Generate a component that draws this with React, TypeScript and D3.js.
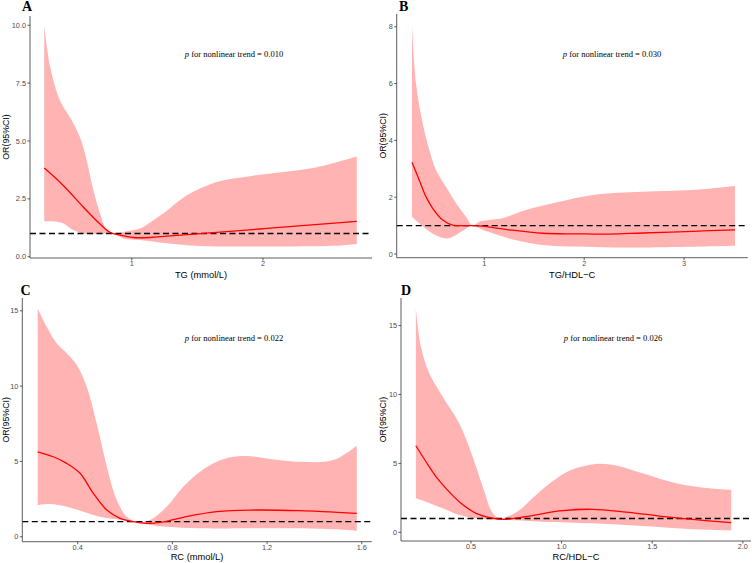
import React from "react";
import * as d3 from "d3";

type P = [number, number];

// Panel A: TG
const tgEst: P[] = [[0.334,3.83],[0.479,3.08],[0.631,2.15],[0.759,1.41],[0.835,1.05],[0.911,0.93],[1.01,0.83],[1.14,0.83],[1.27,0.89],[1.52,1.0],[2.03,1.22],[2.714,1.53]];
const tgUpper: P[] = [[0.334,10.0],[0.38,8.17],[0.454,6.74],[0.53,6.02],[0.606,5.16],[0.657,4.16],[0.708,2.87],[0.759,1.87],[0.81,1.15],[0.86,1.0],[0.96,1.1],[1.063,1.22],[1.165,1.58],[1.27,2.0],[1.42,2.65],[1.647,3.23],[1.9,3.48],[2.155,3.66],[2.41,3.87],[2.714,4.33]];
const tgLower: P[] = [[0.334,1.53],[0.4,1.53],[0.479,1.44],[0.555,1.15],[0.631,1.0],[0.759,0.98],[0.86,1.0],[0.936,0.79],[1.063,0.72],[1.27,0.58],[1.52,0.46],[2.03,0.44],[2.535,0.47],[2.714,0.55]];

// Panel B: TG/HDL-C
const tghEst: P[] = [[0.276,3.23],[0.349,2.6],[0.416,2.02],[0.483,1.61],[0.583,1.2],[0.683,1.02],[0.85,1.0],[0.983,0.98],[1.25,0.85],[1.585,0.73],[1.92,0.71],[2.25,0.70],[2.585,0.74],[3.086,0.8],[3.51,0.85]];
const tghUpper: P[] = [[0.276,8.06],[0.316,6.0],[0.383,4.6],[0.45,3.66],[0.516,2.96],[0.616,2.37],[0.717,1.79],[0.817,1.31],[0.884,1.0],[0.95,1.14],[1.05,1.2],[1.183,1.26],[1.417,1.55],[1.75,1.84],[2.085,2.08],[2.585,2.19],[3.086,2.25],[3.51,2.39]];
const tghLower: P[] = [[0.276,1.31],[0.349,1.08],[0.45,0.79],[0.55,0.61],[0.633,0.55],[0.717,0.67],[0.8,0.85],[0.884,1.0],[0.983,0.85],[1.083,0.73],[1.25,0.55],[1.585,0.32],[2.085,0.25],[2.585,0.23],[3.51,0.29]];

// Panel C: RC
const rcEst: P[] = [[0.231,5.64],[0.297,5.31],[0.354,4.87],[0.41,4.21],[0.466,2.88],[0.523,1.77],[0.579,1.22],[0.635,1.0],[0.692,0.89],[0.748,0.95],[0.846,1.29],[0.987,1.66],[1.128,1.77],[1.339,1.73],[1.579,1.55]];
const rcUpper: P[] = [[0.231,15.16],[0.269,13.94],[0.311,12.84],[0.354,12.18],[0.396,11.4],[0.438,9.96],[0.48,7.53],[0.523,4.65],[0.565,2.44],[0.607,1.33],[0.65,1.0],[0.705,1.11],[0.776,1.99],[0.846,3.32],[0.917,4.32],[0.987,4.98],[1.057,5.31],[1.128,5.35],[1.198,5.2],[1.339,4.98],[1.48,5.09],[1.579,6.04]];
const rcLower: P[] = [[0.231,2.1],[0.283,2.17],[0.354,1.99],[0.424,1.66],[0.494,1.33],[0.565,1.16],[0.635,1.0],[0.705,0.78],[0.776,0.66],[0.917,0.56],[1.198,0.56],[1.48,0.5],[1.579,0.4]];

// Panel D: RC/HDL-C
const rchEst: P[] = [[0.196,6.28],[0.252,5.12],[0.307,4.04],[0.362,3.19],[0.435,2.22],[0.528,1.38],[0.62,1.02],[0.675,0.94],[0.8,1.13],[0.987,1.55],[1.17,1.67],[1.355,1.47],[1.539,1.18],[1.723,0.94],[1.936,0.7]];
const rchUpper: P[] = [[0.196,16.25],[0.224,13.47],[0.27,11.54],[0.344,9.84],[0.435,7.91],[0.509,5.49],[0.565,3.31],[0.62,1.38],[0.656,1.02],[0.75,1.45],[0.85,2.6],[0.95,3.7],[1.05,4.5],[1.19,4.96],[1.3,4.85],[1.447,4.28],[1.631,3.56],[1.815,3.19],[1.936,3.07]];
const rchLower: P[] = [[0.196,2.47],[0.252,2.22],[0.344,1.74],[0.435,1.26],[0.528,1.02],[0.62,0.94],[0.711,0.89],[0.896,0.77],[1.17,0.65],[1.447,0.46],[1.723,0.22],[1.936,0.12]];

const tgXTicks = [1, 2];
const tgYTicks = [0, 2.5, 5, 7.5, 10];
const tghXTicks = [1, 2, 3];
const tghYTicks = [0, 2, 4, 6, 8];
const rcXTicks = [0.4, 0.8, 1.2, 1.6];
const rcYTicks = [0, 5, 10, 15];
const rchXTicks = [0.5, 1.0, 1.5, 2.0];
const rchYTicks = [0, 5, 10, 15];

const panelLetters = ["A", "B", "C", "D"];
const xTitles = ["TG (mmol/L)", "TG/HDL\u2212C", "RC (mmol/L)", "RC/HDL\u2212C"];
const pValues = ["0.010", "0.030", "0.022", "0.026"];
const refLine = 1;

interface Panel {
  est: P[]; upper: P[]; lower: P[];
  xTicks: number[]; yTicks: number[];
  xFmt: (v: number) => string; yFmt: (v: number) => string;
  xDomain: [number, number]; yDomain: [number, number];
  left: number; right: number; top: number; bottom: number;
  letterX: number; letterY: number;
  annX: number; annY: number;
  yTitleX: number; xTitleY: number;
}

const panels: Panel[] = [
  { est: tgEst, upper: tgUpper, lower: tgLower, xTicks: tgXTicks, yTicks: tgYTicks,
    xFmt: d3.format("d"), yFmt: d3.format(".1f"),
    xDomain: [0.2254, 2.83], yDomain: [-0.056, 10.4],
    left: 30, right: 372, top: 16, bottom: 258,
    letterX: 22, letterY: 11, annX: 234, annY: 57, yTitleX: 9, xTitleY: 278 },
  { est: tghEst, upper: tghUpper, lower: tghLower, xTicks: tghXTicks, yTicks: tghYTicks,
    xFmt: d3.format("d"), yFmt: d3.format("d"),
    xDomain: [0.123, 3.637], yDomain: [-0.13, 8.45],
    left: 396.7, right: 747.7, top: 14, bottom: 257.7,
    letterX: 399, letterY: 11, annX: 612, annY: 57, yTitleX: 386, xTitleY: 278 },
  { est: rcEst, upper: rcUpper, lower: rcLower, xTicks: rcXTicks, yTicks: rcYTicks,
    xFmt: d3.format(".1f"), yFmt: d3.format("d"),
    xDomain: [0.166, 1.642], yDomain: [-0.33, 15.85],
    left: 22.3, right: 371.7, top: 298, bottom: 541.7,
    letterX: 20.5, letterY: 295, annX: 234, annY: 341, yTitleX: 9, xTitleY: 559.5 },
  { est: rchEst, upper: rchUpper, lower: rchLower, xTicks: rchXTicks, yTicks: rchYTicks,
    xFmt: d3.format(".1f"), yFmt: d3.format("d"),
    xDomain: [0.114, 2.045], yDomain: [-0.63, 17.0],
    left: 401, right: 751, top: 298, bottom: 541,
    letterX: 401, letterY: 295, annX: 613, annY: 341, yTitleX: 386, xTitleY: 559.5 },
];

const sans = "'Liberation Sans', Arial, sans-serif";
const serif = "'Liberation Serif', 'Times New Roman', serif";

function PanelView({ p, i }: { p: Panel; i: number }) {
  const x = d3.scaleLinear().domain(p.xDomain).range([p.left, p.right]);
  const y = d3.scaleLinear().domain(p.yDomain).range([p.bottom, p.top]);
  const curve = d3.curveCatmullRom.alpha(0.5);
  const line = d3.line<P>().x(d => x(d[0])).y(d => y(d[1])).curve(curve);
  const upperPath = line(p.upper) || "";
  const lowerPath = (line([...p.lower].reverse()) || "").replace(/^M/, "L");
  const bandPath = upperPath + lowerPath + "Z";
  const estPath = line(p.est) || "";
  const tick = 2.5;
  return (
    <g>
      <path d={bandPath} fill="#FFB3B3" stroke="none" />
      <line x1={p.left} x2={p.right} y1={y(refLine)} y2={y(refLine)}
        stroke="#000" strokeWidth={1.4} strokeDasharray="6,3.5" />
      <path d={estPath} fill="none" stroke="#FF0000" strokeWidth={1.3} />
      <line x1={p.left} x2={p.left} y1={p.top} y2={p.bottom} stroke="#333" strokeWidth={0.8} />
      <line x1={p.left} x2={p.right} y1={p.bottom} y2={p.bottom} stroke="#333" strokeWidth={0.8} />
      {p.yTicks.map(t => (
        <g key={"y" + t}>
          <line x1={p.left - tick} x2={p.left} y1={y(t)} y2={y(t)} stroke="#333" strokeWidth={0.8} />
          <text x={p.left - tick - 1.5} y={y(t)} dy="0.35em" textAnchor="end"
            fontFamily={sans} fontSize={7.3} fill="#4D4D4D">{p.yFmt(t)}</text>
        </g>
      ))}
      {p.xTicks.map(t => (
        <g key={"x" + t}>
          <line x1={x(t)} x2={x(t)} y1={p.bottom} y2={p.bottom + tick} stroke="#333" strokeWidth={0.8} />
          <text x={x(t)} y={p.bottom + 8} textAnchor="middle"
            fontFamily={sans} fontSize={7.3} fill="#4D4D4D">{p.xFmt(t)}</text>
        </g>
      ))}
      <text x={(p.left + p.right) / 2} y={p.xTitleY} textAnchor="middle"
        fontFamily={sans} fontSize={9.3} fill="#000">{xTitles[i]}</text>
      <text transform={`translate(${p.yTitleX},${(p.top + p.bottom) / 2}) rotate(-90)`}
        textAnchor="middle" fontFamily={sans} fontSize={8.8} fill="#000">OR(95%CI)</text>
      <text x={p.letterX} y={p.letterY} fontFamily={serif} fontWeight="bold" fontSize={14} fill="#000">
        {panelLetters[i]}
      </text>
      <text x={p.annX} y={p.annY} textAnchor="middle" fontFamily={serif} fontSize={8.5} fill="#000">
        <tspan fontStyle="italic">p</tspan> for nonlinear trend = {pValues[i]}
      </text>
    </g>
  );
}

export default function App() {
  return (
    <svg width={752} height={563} viewBox="0 0 752 563"
      style={{ position: "absolute", left: 0, top: 0, background: "#fff" }}>
      <rect x={0} y={0} width={752} height={563} fill="#fff" />
      {panels.map((p, i) => <PanelView key={i} p={p} i={i} />)}
    </svg>
  );
}
